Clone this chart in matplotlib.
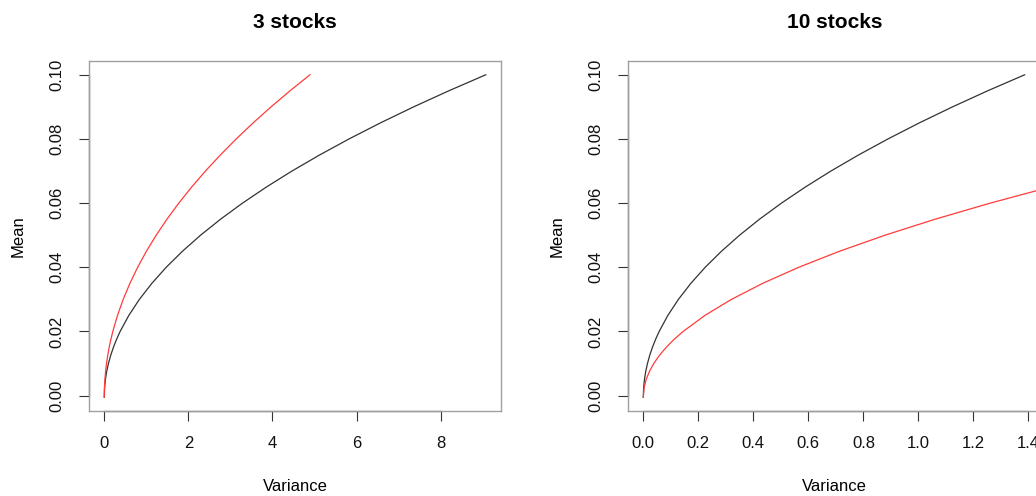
import numpy as np
import matplotlib
matplotlib.use('Agg')
import matplotlib.pyplot as plt

plt.rcParams['font.family'] = ['Liberation Sans', 'DejaVu Sans']

# mean levels (y) shared by all frontiers
mean_vals = [-0.0005, 0.0025, 0.005, 0.0075, 0.01, 0.0125, 0.015, 0.0175, 0.02, 0.025,
             0.03, 0.035, 0.04, 0.045, 0.05, 0.055, 0.06, 0.065, 0.07, 0.075,
             0.08, 0.085, 0.09, 0.095, 0.10]

# variance (x)
var3_black = [0, 0.008, 0.027, 0.057, 0.099, 0.152, 0.216, 0.291, 0.377, 0.584,
              0.835, 1.132, 1.473, 1.859, 2.290, 2.766, 3.287, 3.853, 4.463, 5.119,
              5.819, 6.565, 7.355, 8.190, 9.07]
var3_red = [0, 0.004, 0.015, 0.031, 0.053, 0.082, 0.116, 0.157, 0.203, 0.315,
            0.450, 0.610, 0.794, 1.002, 1.235, 1.491, 1.772, 2.077, 2.406, 2.760,
            3.137, 3.539, 3.965, 4.416, 4.89]
var10_black = [0, 0.0012, 0.0042, 0.0088, 0.0151, 0.0232, 0.0330, 0.0445, 0.0577, 0.0892,
               0.1277, 0.1729, 0.2251, 0.2841, 0.3500, 0.4227, 0.5023, 0.5887, 0.6820, 0.7822,
               0.8893, 1.0031, 1.1239, 1.2515, 1.386]
var10_red = [0, 0.0031, 0.0104, 0.0220, 0.0380, 0.0582, 0.0828, 0.1116, 0.1448, 0.2240,
             0.3205, 0.4342, 0.5651, 0.7133, 0.8787, 1.0613, 1.2611, 1.4782, 1.7125, 1.9640,
             2.2328, 2.5187, 2.8219, 3.1424, 3.48]

titles = ['3 stocks', '10 stocks']
xticks3 = [0, 2, 4, 6, 8]
xticks10 = [0.0, 0.2, 0.4, 0.6, 0.8, 1.0, 1.2, 1.4]
yticks = [0.00, 0.02, 0.04, 0.06, 0.08, 0.10]

fig = plt.figure(figsize=(10.36, 4.96), dpi=100)
ax1 = fig.add_axes([89/1036, 85/496, 412/1036, 350/496])
ax2 = fig.add_axes([628/1036, 85/496, 413/1036, 350/496])

def style(ax, xt, xlim, xlab_fmt, title):
    ax.set_xlim(*xlim)
    ax.set_ylim(-0.0048, 0.1043)
    ax.set_xticks(xt)
    ax.set_xticklabels([xlab_fmt % v for v in xt])
    ax.set_yticks(yticks)
    ax.set_yticklabels(['%.2f' % v for v in yticks], rotation=90, va='center')
    for s in ax.spines.values():
        s.set_color('#a0a0a0')
        s.set_linewidth(1.0)
    ax.tick_params(length=7, width=0.8, color='#333333', labelsize=12, pad=11,
                   labelcolor='#111111')
    # axis lines over the tick range, like base R
    ax.plot([xt[0], xt[-1]], [0, 0], color='#333333', lw=0.9,
            transform=ax.get_xaxis_transform(), clip_on=False)
    ax.plot([0, 0], [yticks[0], yticks[-1]], color='#333333', lw=0.9,
            transform=ax.get_yaxis_transform(), clip_on=False)
    ax.set_xlabel('Variance', fontsize=12, labelpad=20)
    ax.set_ylabel('Mean', fontsize=12, labelpad=17)
    ax.set_title(title, fontsize=15, fontweight='bold', pad=24)

ax1.plot(var3_black, mean_vals, color='#333333', lw=0.9)
ax1.plot(var3_red, mean_vals, color='#ff3b3b', lw=0.9)
style(ax1, xticks3, (-0.363, 9.433), '%d', titles[0])

ax2.plot(var10_black, mean_vals, color='#333333', lw=0.9)
ax2.plot(var10_red, mean_vals, color='#ff3b3b', lw=0.9)
style(ax2, xticks10, (-0.0556, 1.4456), '%.1f', titles[1])

fig.savefig('out.png', dpi=100)
